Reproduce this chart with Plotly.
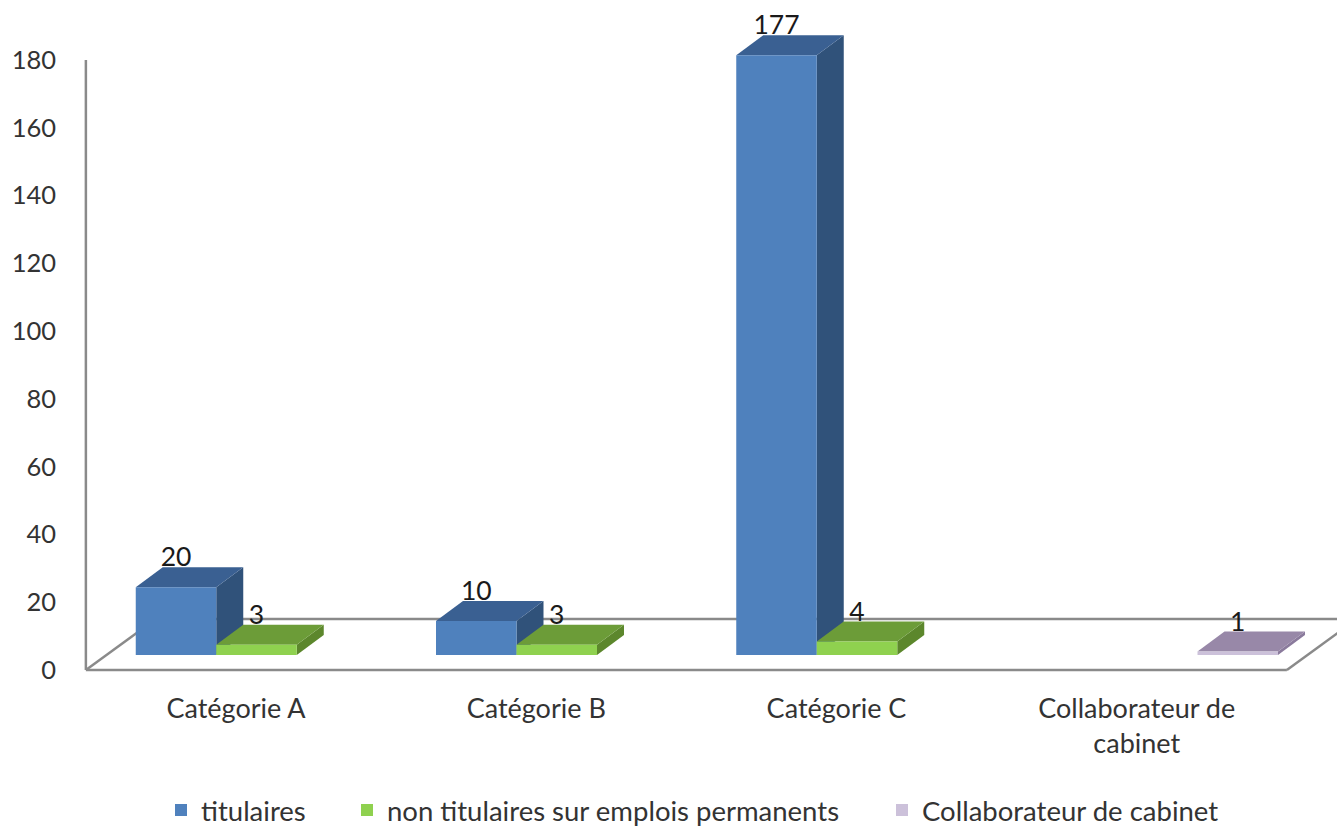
import plotly.graph_objects as go

categories = ["Catégorie A", "Catégorie B", "Catégorie C", "Collaborateur de<br>cabinet"]
titulaires = [20, 10, 177, None]
non_titulaires = [3, 3, 4, None]
collaborateur = [None, None, None, 1]
y_ticks = [0, 20, 40, 60, 80, 100, 120, 140, 160, 180]
legend_widths = [141, 490, 300]

series = [
    ("titulaires", titulaires, "#4F81BD", "#3A6092", "#30527A"),
    ("non titulaires sur emplois permanents", non_titulaires, "#8FD14F", "#6C9C38", "#5C872C"),
    ("Collaborateur de cabinet", collaborateur, "#CCC1DA", "#9888A8", "#8A7A9C"),
]

W, H = 1337, 826
PX_X = 300.25        # pixels per category
PX_Y = 3.389         # pixels per value unit
X0, Y0 = 236, 670    # pixel of category 0 / value 0
L, B = 76, 680       # plot-area left / bottom in pixels

x_range = [(L - X0) / PX_X, (W - X0) / PX_X]
y_range = [(Y0 - B) / PX_Y, Y0 / PX_Y]

BAR_W = 80.5 / PX_X
FRONT_DX, FRONT_DY = 20.5 / PX_X, 15 / PX_Y   # bars' front plane inside the floor
BAR_DX, BAR_DY = 27 / PX_X, 20 / PX_Y         # bar depth
FLOOR_DX, FLOOR_DY = 70 / PX_X, 51 / PX_Y     # floor depth
LABEL_LIFT = 7.5 / PX_Y
FLOOR_L, FLOOR_R = -0.5, 3.5

fig = go.Figure()

# depth faces on the main axes
for j, (name, vals, front, top, side) in enumerate(series):
    for i, v in enumerate(vals):
        if v is None:
            continue
        x1 = i + FRONT_DX + (j - 1.5) * BAR_W
        x2 = x1 + BAR_W
        b = FRONT_DY
        t = FRONT_DY + v
        fig.add_trace(go.Scatter(
            x=[x2, x2 + BAR_DX, x2 + BAR_DX, x2, x2],
            y=[b, b + BAR_DY, t + BAR_DY, t, b],
            mode="lines", fill="toself", fillcolor=side, line=dict(width=0),
            showlegend=False, hoverinfo="skip"))
        fig.add_trace(go.Scatter(
            x=[x1, x2, x2 + BAR_DX, x1 + BAR_DX, x1],
            y=[t, t, t + BAR_DY, t + BAR_DY, t],
            mode="lines", fill="toself", fillcolor=top, line=dict(width=0),
            showlegend=False, hoverinfo="skip"))

# front faces and labels on an overlaying pair of axes, above the depth faces
for j, (name, vals, front, top, side) in enumerate(series):
    xs = [i + FRONT_DX + (j - 1) * BAR_W for i in range(len(categories))]
    fig.add_trace(go.Bar(
        x=xs, y=vals, base=FRONT_DY, width=BAR_W, name=name,
        legendwidth=legend_widths[j],
        marker=dict(color=front, line=dict(width=0)),
        xaxis="x2", yaxis="y2"))
for j, (name, vals, front, top, side) in enumerate(series):
    xs, ys, ts = [], [], []
    for i, v in enumerate(vals):
        if v is None:
            continue
        xs.append(i + FRONT_DX + (j - 1) * BAR_W)
        ys.append(v + FRONT_DY + BAR_DY + LABEL_LIFT)
        ts.append(str(v))
    fig.add_trace(go.Scatter(
        x=xs, y=ys, text=ts, mode="text", textposition="middle center",
        textfont=dict(family="Lato", size=26.5, color="#1a1a1a"),
        showlegend=False, hoverinfo="skip", cliponaxis=False,
        xaxis="x2", yaxis="y2"))

grey = "#8a8a8a"
line = dict(color=grey, width=2.5)
floor_shapes = [
    (FLOOR_L, 0, FLOOR_L, 180),
    (FLOOR_L, 0, FLOOR_R, 0),
    (FLOOR_L, 0, FLOOR_L + FLOOR_DX, FLOOR_DY),
    (FLOOR_L + FLOOR_DX, FLOOR_DY, FLOOR_R + FLOOR_DX, FLOOR_DY),
    (FLOOR_R, 0, FLOOR_R + FLOOR_DX, FLOOR_DY),
]
shapes = [dict(type="line", xref="x", yref="y", x0=a, y0=b, x1=c, y1=d, line=line, layer="below")
          for a, b, c, d in floor_shapes]

fig.update_layout(
    width=W, height=H,
    margin=dict(l=L, r=0, t=0, b=H - B, pad=0, autoexpand=False),
    paper_bgcolor="white", plot_bgcolor="white",
    barmode="overlay",
    font=dict(family="Lato", size=25, color="#333333"),
    shapes=shapes,
    showlegend=True,
    legend=dict(orientation="h", x=(161 - L) / (W - L), xanchor="left",
                y=-(810 - B) / B, yanchor="middle",
                font=dict(family="Lato", size=27.5, color="#333333"),
                bgcolor="rgba(0,0,0,0)", traceorder="normal"),
    xaxis=dict(range=x_range, tickmode="array", tickvals=list(range(len(categories))),
               ticktext=categories, showgrid=False, zeroline=False, showline=False,
               ticks="", ticklabelstandoff=10, tickfont=dict(family="Lato", size=27, color="#333333")),
    yaxis=dict(range=y_range, tickmode="array", tickvals=y_ticks, showgrid=False,
               zeroline=False, showline=False, ticks="", ticklabelstandoff=19,
               tickfont=dict(family="Lato", size=25.5, color="#333333")),
    xaxis2=dict(range=x_range, overlaying="x", visible=False, anchor="y2"),
    yaxis2=dict(range=y_range, overlaying="y", visible=False, anchor="x2"),
)

fig.write_html("out.html", config=dict(displayModeBar=False),
               post_script="document.body.style.margin='0';document.body.style.overflow='hidden';")
